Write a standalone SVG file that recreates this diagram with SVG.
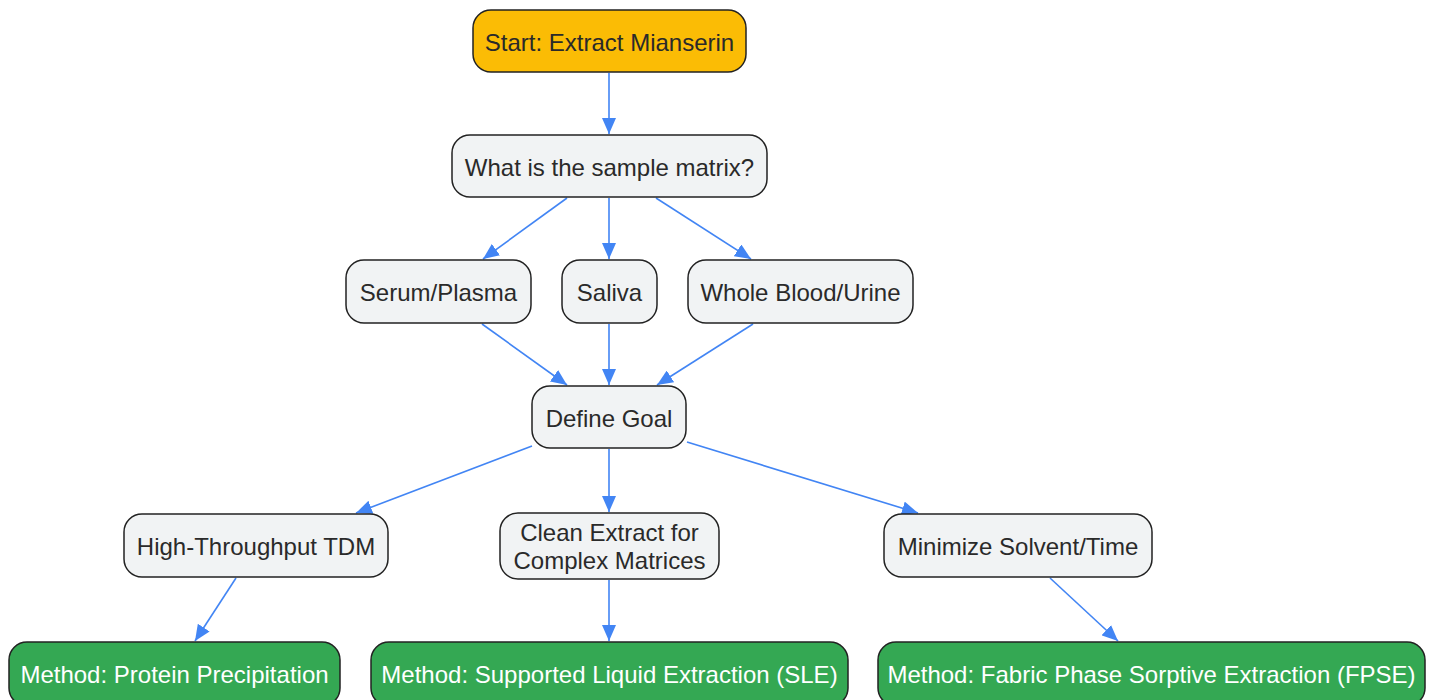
<svg xmlns="http://www.w3.org/2000/svg" width="1436" height="700" viewBox="0 0 1436 700">
<style>
.n rect{fill:#F1F3F4;stroke:#222;stroke-width:1.5}
.start rect{fill:#FBBC05}
.m rect{fill:#34A853}
text{font-family:"Liberation Sans",Arial,sans-serif;font-size:24px;fill:#2a2a2a;text-anchor:middle;dominant-baseline:central}
.m text{fill:#fff}
.e line{stroke:#4285F4;stroke-width:1.6;marker-end:url(#a)}
</style>
<defs>
<marker id="a" viewBox="0 0 16 14" refX="16" refY="7" markerWidth="16" markerHeight="14" markerUnits="userSpaceOnUse" orient="auto">
<path d="M0,0L16,7L0,14z" fill="#4285F4"/>
</marker>
</defs>
<rect width="1436" height="700" fill="#fff"/>
<g class="e">
<line x1="609" y1="73" x2="609" y2="134"/>
<line x1="567" y1="198" x2="483" y2="259"/>
<line x1="609" y1="198" x2="609" y2="259"/>
<line x1="656" y1="198" x2="751" y2="259"/>
<line x1="482" y1="324" x2="567" y2="385"/>
<line x1="609" y1="324" x2="609" y2="385"/>
<line x1="753" y1="324" x2="657" y2="385"/>
<line x1="532" y1="446" x2="356" y2="513"/>
<line x1="609" y1="449" x2="609" y2="512"/>
<line x1="687" y1="442" x2="918" y2="513"/>
<line x1="236" y1="578" x2="195" y2="641"/>
<line x1="609" y1="580" x2="609" y2="641"/>
<line x1="1050" y1="578" x2="1118" y2="641"/>
</g>
<g id="start" class="n start"><rect x="473" y="10" width="273" height="62" rx="18"/><text x="609.5" y="42">Start: Extract Mianserin</text></g>
<g id="matrix" class="n"><rect x="452" y="135" width="315" height="62" rx="18"/><text x="609.5" y="167">What is the sample matrix?</text></g>
<g id="serum" class="n"><rect x="346" y="260" width="185" height="63" rx="18"/><text x="438.5" y="292">Serum/Plasma</text></g>
<g id="saliva" class="n"><rect x="562" y="260" width="95" height="63" rx="18"/><text x="609.5" y="292">Saliva</text></g>
<g id="blood" class="n"><rect x="688" y="260" width="225" height="63" rx="18"/><text x="800.5" y="292">Whole Blood/Urine</text></g>
<g id="goal" class="n"><rect x="532" y="386" width="154" height="62" rx="18"/><text x="609" y="418">Define Goal</text></g>
<g id="tdm" class="n"><rect x="124" y="514" width="264" height="63" rx="18"/><text x="256" y="546">High-Throughput TDM</text></g>
<g id="clean" class="n"><rect x="500" y="513" width="219" height="66" rx="18"/><text x="609.5" y="532">Clean Extract for</text><text x="609.5" y="560">Complex Matrices</text></g>
<g id="minimize" class="n"><rect x="884" y="514" width="268" height="63" rx="18"/><text x="1018" y="546">Minimize Solvent/Time</text></g>
<g id="pp" class="n m"><rect x="9" y="642" width="331" height="64" rx="18"/><text x="174.5" y="674">Method: Protein Precipitation</text></g>
<g id="sle" class="n m"><rect x="371" y="642" width="477" height="64" rx="18"/><text x="609.5" y="674">Method: Supported Liquid Extraction (SLE)</text></g>
<g id="fpse" class="n m"><rect x="878" y="642" width="547" height="64" rx="18"/><text x="1151.5" y="674">Method: Fabric Phase Sorptive Extraction (FPSE)</text></g>
</svg>
